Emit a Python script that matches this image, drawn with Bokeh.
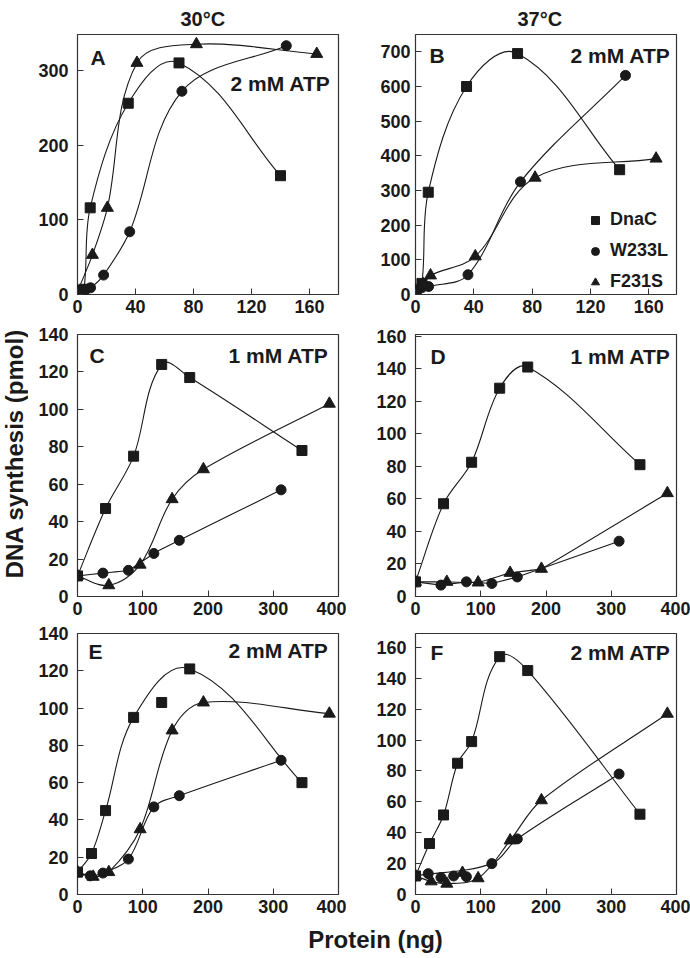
import math
import numpy as np
from bokeh.plotting import figure
from bokeh.layouts import row, column
from bokeh.models import FixedTicker, Label, Legend, LegendItem, Range1d, Title
from bokeh.embed import file_html
from bokeh.resources import INLINE

FONT = "Liberation Sans"
INK = "#1a1a1a"

# ---------------- data ----------------
series_names = ["DnaC", "W233L", "F231S"]
col_titles = ["30°C", "37°C"]
panel_letters = ["A", "B", "C", "D", "E", "F"]
panel_atp = ["2 mM ATP", "2 mM ATP", "1 mM ATP", "1 mM ATP", "2 mM ATP", "2 mM ATP"]
x_axis_title = "Protein (ng)"
y_axis_title = "DNA synthesis (pmol)"

# Panel A
a_dnac_x = [0, 4.4, 8.75, 35, 70, 140]
a_dnac_y = [5, 7, 116, 256, 310, 159]
a_w233l_x = [0, 4.5, 9, 18, 36, 72, 144]
a_w233l_y = [4, 6, 9, 26, 84, 272, 333]
a_f231s_x = [0, 10.3, 20.6, 41, 82, 165]
a_f231s_y = [4, 53, 116, 310, 335, 322]
a_xticks = [0, 40, 80, 120, 160]
a_yticks = [0, 100, 200, 300]

# Panel B
b_dnac_x = [0, 4.4, 8.75, 35, 70, 140]
b_dnac_y = [12, 32, 295, 600, 695, 360]
b_w233l_x = [0, 4.5, 9, 36, 72, 144]
b_w233l_y = [12, 20, 23, 57, 325, 632]
b_f231s_x = [0, 5.2, 10.3, 41, 82, 165]
b_f231s_y = [12, 30, 55, 110, 337, 392]
b_xticks = [0, 40, 80, 120, 160]
b_yticks = [0, 100, 200, 300, 400, 500, 600, 700]

# Panel C
c_dnac_x = [0, 43, 86, 129, 172, 344]
c_dnac_y = [11, 47, 75, 124, 117, 78]
c_w233l_x = [0, 39, 78, 117, 156, 312]
c_w233l_y = [11, 12.5, 14, 23, 30, 57]
c_f231s_x = [0, 48, 96, 145, 193, 386]
c_f231s_y = [11, 6, 17, 52, 68, 103]
c_xticks = [0, 100, 200, 300, 400]
c_yticks = [0, 20, 40, 60, 80, 100, 120, 140]

# Panel D
d_dnac_x = [0, 43, 86, 129, 172, 344]
d_dnac_y = [9, 57, 82.5, 128, 141, 81]
d_w233l_x = [0, 39, 78, 117, 156, 312]
d_w233l_y = [9, 7, 9, 8, 12, 34]
d_f231s_x = [0, 48, 96, 145, 193, 386]
d_f231s_y = [9, 9, 8.6, 14.5, 17, 63.5]
d_xticks = [0, 100, 200, 300, 400]
d_yticks = [0, 20, 40, 60, 80, 100, 120, 140, 160]

# Panel E
e_dnac_x = [0, 21.5, 43, 86, 129, 172, 344]
e_dnac_y = [12, 22, 45, 95, 103, 121, 60]
e_w233l_x = [0, 19.5, 39, 78, 117, 156, 312]
e_w233l_y = [12, 10, 11.5, 19, 47, 53, 72]
e_f231s_x = [0, 24, 48, 96, 145, 193, 386]
e_f231s_y = [12, 9.5, 12, 35, 88, 103, 97]
e_xticks = [0, 100, 200, 300, 400]
e_yticks = [0, 20, 40, 60, 80, 100, 120, 140]

# Panel F
f_dnac_x = [0, 21.5, 43, 64.5, 86, 129, 172, 344]
f_dnac_y = [12, 33, 51.5, 85, 99, 154, 145, 52]
f_w233l_x = [0, 19.5, 39, 58.5, 78, 117, 156, 312]
f_w233l_y = [12, 13.5, 11, 12, 11.5, 20, 36, 78]
f_f231s_x = [0, 24, 48, 72, 96, 145, 193, 386]
f_f231s_y = [12, 8.5, 7, 14, 10.5, 35, 61, 117]
f_xticks = [0, 100, 200, 300, 400]
f_yticks = [0, 20, 40, 60, 80, 100, 120, 140, 160]

# ---------------- styling / layout ----------------
MARKERS = {"DnaC": ("square", 10), "W233L": ("circle", 10), "F231S": ("triangle", 12)}

RANGES = {
    "A": ((0, 180), (0, 348)),
    "B": ((0, 179), (0, 750)),
    "C": ((0, 400), (0, 140)),
    "D": ((0, 400), (0, 161)),
    "E": ((0, 400), (0, 140)),
    "F": ((0, 400), (0, 169)),
}
SMOOTH = {("D", "W233L"): 0.0, ("D", "F231S"): 0.15, ("C", "W233L"): 0.3}
SKIP = {("E", "DnaC"): [4], ("F", "W233L"): [1, 2, 3, 4], ("F", "F231S"): [3]}

YLAB_W = 28
LW_LEFT, LW_RIGHT = 318, 344
ROW_H = [324, 299, 297]
XLAB_H = 38
BORDERS_TB = [(32, 30), (10, 27), (10, 26)]
LEFT_B = {"L": (49, 8), "R": (69, 14)}
TITLE_OFFSET = [103, 102]


def curve_segments(xs, ys, xr, yr, fw, fh, tension):
    sx = fw / (xr[1] - xr[0])
    sy = fh / (yr[1] - yr[0])
    P = np.column_stack([np.asarray(xs, float) * sx, np.asarray(ys, float) * sy])
    n = len(P)
    T = np.zeros_like(P)
    for i in range(n):
        if i == 0:
            d = P[1] - P[0]
        elif i == n - 1:
            d = P[-1] - P[-2]
        else:
            d = P[i + 1] - P[i - 1]
        T[i] = d / (np.linalg.norm(d) + 1e-9)
    out = {k: [] for k in ["x0", "y0", "x1", "y1", "cx0", "cy0", "cx1", "cy1"]}
    for i in range(n - 1):
        L = np.linalg.norm(P[i + 1] - P[i]) * tension / 3.0
        c0 = P[i] + T[i] * L
        c1 = P[i + 1] - T[i + 1] * L
        out["x0"].append(P[i][0] / sx); out["y0"].append(P[i][1] / sy)
        out["x1"].append(P[i + 1][0] / sx); out["y1"].append(P[i + 1][1] / sy)
        out["cx0"].append(c0[0] / sx); out["cy0"].append(c0[1] / sy)
        out["cx1"].append(c1[0] / sx); out["cy1"].append(c1[1] / sy)
    return out


panel_data = {
    "A": ([(a_dnac_x, a_dnac_y), (a_w233l_x, a_w233l_y), (a_f231s_x, a_f231s_y)], a_xticks, a_yticks),
    "B": ([(b_dnac_x, b_dnac_y), (b_w233l_x, b_w233l_y), (b_f231s_x, b_f231s_y)], b_xticks, b_yticks),
    "C": ([(c_dnac_x, c_dnac_y), (c_w233l_x, c_w233l_y), (c_f231s_x, c_f231s_y)], c_xticks, c_yticks),
    "D": ([(d_dnac_x, d_dnac_y), (d_w233l_x, d_w233l_y), (d_f231s_x, d_f231s_y)], d_xticks, d_yticks),
    "E": ([(e_dnac_x, e_dnac_y), (e_w233l_x, e_w233l_y), (e_f231s_x, e_f231s_y)], e_xticks, e_yticks),
    "F": ([(f_dnac_x, f_dnac_y), (f_w233l_x, f_w233l_y), (f_f231s_x, f_f231s_y)], f_xticks, f_yticks),
}

LETTER_OFF = {"A": (13, 11), "B": (14, 9), "C": (12, 9), "D": (15, 10), "E": (11, 6), "F": (15, 7)}
ATP_OFF = {"A": (8, 37), "B": (6, 9), "C": (10, 9), "D": (6, 10), "E": (10, 5), "F": (6, 7)}


def make_panel(idx):
    letter = panel_letters[idx]
    col = "L" if idx % 2 == 0 else "R"
    r = idx // 2
    width = LW_LEFT if col == "L" else LW_RIGHT
    bl, br = LEFT_B[col]
    bt, bb = BORDERS_TB[r]
    height = ROW_H[r]
    fw = width - bl - br
    fh = height - bt - bb
    xr, yr = RANGES[letter]
    p = figure(width=width, height=height, x_range=Range1d(*xr), y_range=Range1d(*yr),
               toolbar_location=None, output_backend="svg",
               min_border_left=bl, min_border_right=br, min_border_top=bt, min_border_bottom=bb,
               background_fill_color="white", border_fill_color="white")
    p.grid.grid_line_color = None
    p.outline_line_color = "#333333"
    p.outline_line_width = 1.2
    series, xt, yt = panel_data[letter]
    p.xaxis.ticker = FixedTicker(ticks=xt)
    p.yaxis.ticker = FixedTicker(ticks=yt)
    for ax in p.axis:
        ax.axis_line_color = None
        ax.major_tick_in = 6
        ax.major_tick_out = 0
        ax.major_tick_line_color = "#333333"
        ax.minor_tick_line_color = None
        ax.major_label_text_font = FONT
        ax.major_label_text_font_style = "bold"
        ax.major_label_text_font_size = "18px"
        ax.major_label_text_color = INK
    p.xaxis.major_label_standoff = 5
    p.yaxis.major_label_standoff = 5 if letter == "B" else 9

    if r == 0:
        p.title = Title(text=col_titles[idx], align="left", text_font=FONT,
                        text_font_style="bold", text_font_size="20px", text_color=INK,
                        standoff=10, offset=TITLE_OFFSET[idx])

    renderers = {}
    for name, (xs, ys) in zip(series_names, series):
        skip = SKIP.get((letter, name), [])
        cx = [v for i, v in enumerate(xs) if i not in skip]
        cy = [v for i, v in enumerate(ys) if i not in skip]
        seg = curve_segments(cx, cy, xr, yr, fw, fh, SMOOTH.get((letter, name), 1.0))
        p.bezier(line_color=INK, line_width=1.1, **seg)
    for name, (xs, ys) in zip(series_names, series):
        mk, sz = MARKERS[name]
        renderers[name] = p.scatter(xs, ys, marker=mk, size=sz, fill_color=INK, line_color=INK)

    lx, ly = LETTER_OFF[letter]
    p.add_layout(Label(x=xr[0], y=yr[1], x_offset=lx, y_offset=-ly, text=letter,
                       text_font=FONT, text_font_style="bold", text_font_size="21px",
                       text_align="left", text_baseline="top", text_color=INK))
    ax_, ay_ = ATP_OFF[letter]
    p.add_layout(Label(x=xr[1], y=yr[1], x_offset=-ax_, y_offset=-ay_, text=panel_atp[idx],
                       text_font=FONT, text_font_style="bold", text_font_size="21px",
                       text_align="right", text_baseline="top", text_color=INK))
    if letter == "B":
        legend = Legend(items=[LegendItem(label=n, renderers=[renderers[n]]) for n in series_names],
                        location=(170, 2), border_line_color=None, background_fill_alpha=0,
                        label_text_font=FONT, label_text_font_style="bold",
                        label_text_font_size="18px", label_text_color=INK,
                        glyph_width=20, glyph_height=20, spacing=10, padding=4,
                        label_standoff=5, margin=0)
        p.add_layout(legend)
    return p


panels = [make_panel(i) for i in range(6)]

total_h = sum(ROW_H) + XLAB_H
ylab = figure(width=YLAB_W, height=total_h, x_range=(0, 1), y_range=(0, 1),
              toolbar_location=None, output_backend="svg", x_axis_location=None,
              y_axis_location=None, min_border=0, outline_line_color=None)
ylab.grid.grid_line_color = None
ylab.add_layout(Label(x=0.5, y=0.527, angle=math.pi / 2, text=y_axis_title,
                      text_font=FONT, text_font_style="bold", text_font_size="24px",
                      text_align="center", text_baseline="middle", text_color=INK))

xlab_w = LW_LEFT + LW_RIGHT
xlab = figure(width=xlab_w, height=XLAB_H, x_range=(0, 1), y_range=(0, 1),
              toolbar_location=None, output_backend="svg", x_axis_location=None,
              y_axis_location=None, min_border=0, outline_line_color=None)
xlab.grid.grid_line_color = None
xlab.add_layout(Label(x=(375 - YLAB_W) / xlab_w, y=0.5, text=x_axis_title,
                      text_font=FONT, text_font_style="bold", text_font_size="24px",
                      text_align="center", text_baseline="middle", text_color=INK))

layout = row(ylab, column(row(panels[0], panels[1]), row(panels[2], panels[3]),
                          row(panels[4], panels[5]), xlab))

open("out.html", "w").write(file_html(layout, INLINE))
